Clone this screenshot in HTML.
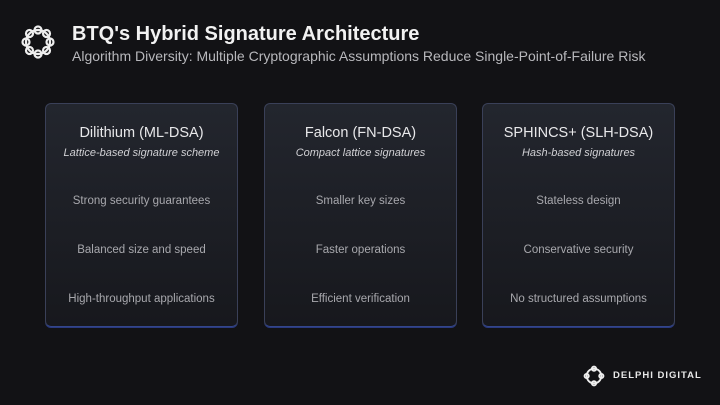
<!DOCTYPE html>
<html><head><style>
body{margin:0;width:720px;height:405px;background:#121215;overflow:hidden;font-family:"Liberation Sans",sans-serif;position:relative}
.t{position:absolute;left:72px;top:23px;color:#f2f2f2;font-size:20px;font-weight:bold}
.s{position:absolute;left:72px;top:48px;color:#b8b8bc;font-size:14px}
.card{position:absolute;top:103px;width:191px;height:222px;border-radius:6px;background:linear-gradient(#23262e,#17181d);border:1px solid #3a4058;border-bottom-color:#34468a;box-shadow:0 1px 0 #2a3a80;text-align:center;color:#e8e8ea}
.card h3{margin:0;position:absolute;top:21px;width:100%;font-size:14.5px;font-weight:normal}
.card i{position:absolute;top:43px;left:0;width:100%;font-size:11px;color:#d0d0d4}
.card p{margin:0;position:absolute;width:100%;font-size:11.5px;color:#a8a8ad}
.logo{position:absolute;color:#eee}
.dd{position:absolute;left:613px;top:370px;color:#e8e8e8;font-size:9.5px;letter-spacing:1px;font-weight:bold;white-space:nowrap}
</style></head><body>
<svg class="logo" style="left:20px;top:24px" width="36" height="36" viewBox="0 0 36 36"><g fill="none" stroke="#eee" stroke-width="2.2"><circle cx="18" cy="18" r="12"/><circle cx="18" cy="6" r="3.5"/><circle cx="18" cy="30" r="3.5"/><circle cx="6" cy="18" r="3.5"/><circle cx="30" cy="18" r="3.5"/><circle cx="9.5" cy="9.5" r="3.5"/><circle cx="26.5" cy="26.5" r="3.5"/><circle cx="26.5" cy="9.5" r="3.5"/><circle cx="9.5" cy="26.5" r="3.5"/></g></svg>
<div class="t">BTQ's Hybrid Signature Architecture</div>
<div class="s">Algorithm Diversity: Multiple Cryptographic Assumptions Reduce Single-Point-of-Failure Risk</div>
<div class="card" style="left:45px"><h3>Dilithium (ML-DSA)</h3><i>Lattice-based signature scheme</i><p style="top:91px">Strong security guarantees</p><p style="top:140px">Balanced size and speed</p><p style="top:189px">High-throughput applications</p></div>
<div class="card" style="left:264px"><h3>Falcon (FN-DSA)</h3><i>Compact lattice signatures</i><p style="top:91px">Smaller key sizes</p><p style="top:140px">Faster operations</p><p style="top:189px">Efficient verification</p></div>
<div class="card" style="left:482px"><h3>SPHINCS+ (SLH-DSA)</h3><i>Hash-based signatures</i><p style="top:91px">Stateless design</p><p style="top:140px">Conservative security</p><p style="top:189px">No structured assumptions</p></div>
<svg class="logo" style="left:583px;top:365px" width="22" height="22" viewBox="0 0 36 36"><g fill="none" stroke="#eee" stroke-width="3"><circle cx="18" cy="18" r="12"/><circle cx="18" cy="6" r="3.5"/><circle cx="18" cy="30" r="3.5"/><circle cx="6" cy="18" r="3.5"/><circle cx="30" cy="18" r="3.5"/></g></svg>
<div class="dd">DELPHI DIGITAL</div>
</body></html>
